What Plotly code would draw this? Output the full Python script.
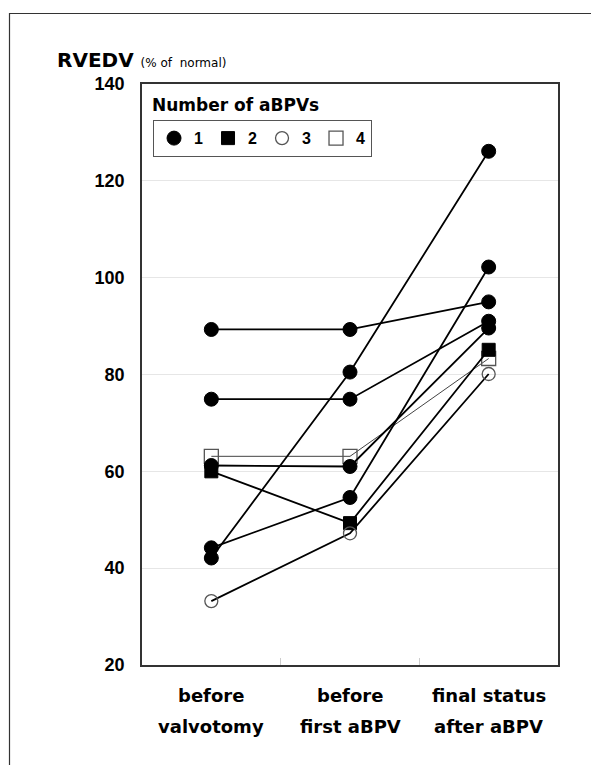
import plotly.graph_objects as go

# ---- data ----
stages = ["before valvotomy", "before first aBPV", "final status after aBPV"]
stage_line1 = ["before", "before", "final status"]
stage_line2 = ["valvotomy", "first aBPV", "after aBPV"]

pt1_one = [89.3, 89.3, 95.0]
pt2_one = [74.9, 74.9, 91.0]
pt3_one = [61.2, 61.0, 89.6]
pt4_one = [44.2, 54.6, 102.2]
pt5_one = [42.1, 80.5, 126.1]
pt6_two = [60.0, 49.3, 85.1]
pt7_three = [33.2, 47.2, 80.1]
pt8_four = [63.1, 63.1, 83.3]

legend_labels = ["1", "2", "3", "4"]
y_ticks = [20, 40, 60, 80, 100, 120, 140]

FONT = "DejaVu Sans"
NUMFONT = "Liberation Sans"

styles = {
    "1": dict(symbol="circle", size=14, color="black", line=dict(color="black", width=1)),
    "2": dict(symbol="square", size=13, color="black", line=dict(color="black", width=1)),
    "3": dict(symbol="circle-open", size=13, color="#555555", line=dict(width=1.3)),
    "4": dict(symbol="square-open", size=14, color="#555555", line=dict(width=1.3)),
}

series = [
    (pt8_four, "4", dict(color="#444444", width=1.0)),
    (pt1_one, "1", dict(color="black", width=1.8)),
    (pt2_one, "1", dict(color="black", width=1.8)),
    (pt3_one, "1", dict(color="black", width=1.8)),
    (pt4_one, "1", dict(color="black", width=1.8)),
    (pt5_one, "1", dict(color="black", width=1.8)),
    (pt6_two, "2", dict(color="black", width=1.8)),
    (pt7_three, "3", dict(color="black", width=1.8)),
]

fig = go.Figure()
for vals, grp, ln in series:
    fig.add_trace(go.Scatter(
        x=stages, y=vals, mode="lines+markers",
        line=ln, marker=dict(styles[grp]), showlegend=False,
        hoverinfo="skip", cliponaxis=False,
    ))

# legend-only traces
for lab in legend_labels:
    fig.add_trace(go.Scatter(
        x=[None], y=[None], mode="markers", name=lab,
        marker=dict(styles[lab]), showlegend=True,
    ))

# plot area (screen coords incl. 8px page margin): left 142, right 558, top 84, bottom 665
fig.update_layout(
    width=599, height=765,
    paper_bgcolor="white", plot_bgcolor="white",
    margin=dict(l=134, r=49, t=76, b=108),
    font=dict(family=FONT, color="black"),
    showlegend=True,
    legend=dict(
        orientation="h", x=0.026, y=0.938, xanchor="left", yanchor="top",
        bordercolor="#555555", borderwidth=1.2, bgcolor="white",
        font=dict(family=NUMFONT, size=16, color="black", weight="bold"),
        itemwidth=30, entrywidthmode="pixels", entrywidth=9,
    ),
    xaxis=dict(
        type="category", range=[-0.5, 2.5],
        showline=True, mirror=True, linecolor="#333333", linewidth=1.5,
        showgrid=False, tickson="boundaries", ticks="inside", ticklen=7,
        tickcolor="#cccccc", tickwidth=1, showticklabels=False,
    ),
    yaxis=dict(
        range=[20, 140], tickvals=y_ticks,
        showline=True, mirror=True, linecolor="#333333", linewidth=1.5,
        showgrid=True, gridcolor="#e6e6e6", gridwidth=1.2,
        ticks="", zeroline=False,
        tickfont=dict(family=NUMFONT, size=18, color="black", weight="bold"),
        ticklabelstandoff=12,
    ),
)

def py(s):
    return (665 - s) / 581

def px(s):
    return (s - 142) / 416

for cat, l1, l2 in zip(stages, stage_line1, stage_line2):
    fig.add_annotation(
        xref="x", yref="paper", x=cat, y=py(695), xanchor="center", yanchor="middle",
        showarrow=False, text=l1,
        font=dict(family=FONT, size=18, color="black", weight="bold"),
    )
    fig.add_annotation(
        xref="x", yref="paper", x=cat, y=py(726), xanchor="center", yanchor="middle",
        showarrow=False, text=l2,
        font=dict(family=FONT, size=18, color="black", weight="bold"),
    )

fig.add_annotation(
    xref="paper", yref="paper", x=px(150), y=py(105),
    xanchor="left", yanchor="middle", showarrow=False,
    text="Number of aBPVs",
    font=dict(family=FONT, size=17, color="black", weight="bold"),
)
fig.add_annotation(
    xref="paper", yref="paper", x=px(55), y=py(60),
    xanchor="left", yanchor="middle", showarrow=False,
    text="RVEDV <span style='font-size:12px;font-weight:normal'>(% of  normal)</span>",
    font=dict(family=FONT, size=20, color="black", weight="bold"),
)

# figure outer frame
fig.add_shape(
    type="rect", xref="paper", yref="paper",
    x0=px(9.5), x1=1.3, y0=-0.5, y1=py(13.5),
    line=dict(color="#333333", width=1.2), layer="below",
)

fig.write_html("out.html")
